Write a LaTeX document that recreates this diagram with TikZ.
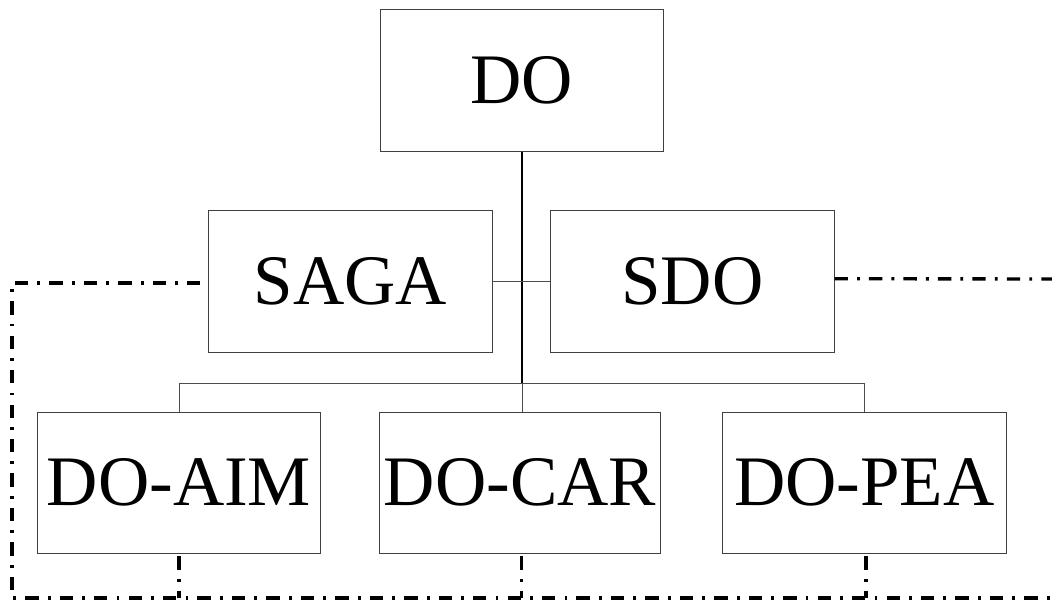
\documentclass[tikz,border=0pt]{standalone}
\usepackage{fontspec}
\setmainfont{Liberation Serif}
\usetikzlibrary{positioning}

\tikzset{
    unit/.style={draw=black!75, line width=0.7pt, minimum width=7.075cm, minimum height=3.525cm,
        inner sep=0pt, font=\fontsize{50.5}{56}\selectfont},
    link/.style={draw=black!70, line width=0.7pt},
    trunk/.style={draw=black, line width=1.4pt},
    liaison/.style={draw=black, line width=2.4pt, dash pattern=on 9.5pt off 6.5pt on 2pt off 6.5pt}
}

\begin{document}
\begin{tikzpicture}[x=0.025cm, y=-0.025cm]
    \useasboundingbox (0,0) rectangle (1052,601);

    % boxes
    \node[unit] (do)   at (522,80.5)   {DO};
    \node[unit] (saga) at (350.5,281.5) {SAGA};
    \node[unit] (sdo)  at (692.5,281.5) {SDO};
    \node[unit] (aim)  at (179,482.5)  {DO-AIM};
    \node[unit, minimum width=7cm] (car) at (520,482.5) {DO-CAR};
    \node[unit] (pea)  at (864.5,482.5) {DO-PEA};

    \coordinate (bus) at (522,383);
    \coordinate (ll) at (12,598);
    \coordinate (lr) at (1052,598);
    \coordinate (re) at (1052,279);

    % solid lines
    \draw[trunk] (do.south) -- (bus);
    \draw[link] (saga.east) -- (sdo.west);
    \draw[link] (aim.north) |- (bus) -| (pea.north);
    \draw[link] (bus) -- (bus |- car.north);

    % dash-dot lines
    \draw[liaison] ([xshift=-0.2cm,yshift=-1pt]saga.west) -| (ll) -- (lr);
    \draw[liaison] ([yshift=2pt]sdo.east) -- (re);
    \draw[liaison] ([yshift=-2pt]aim.south) -- (aim.south |- ll);
    \draw[liaison] ([xshift=1pt,yshift=-2pt]car.south) -- ([xshift=1pt]car.south |- ll);
    \draw[liaison] ([xshift=1pt,yshift=-2pt]pea.south) -- ([xshift=1pt]pea.south |- ll);
\end{tikzpicture}
\end{document}
